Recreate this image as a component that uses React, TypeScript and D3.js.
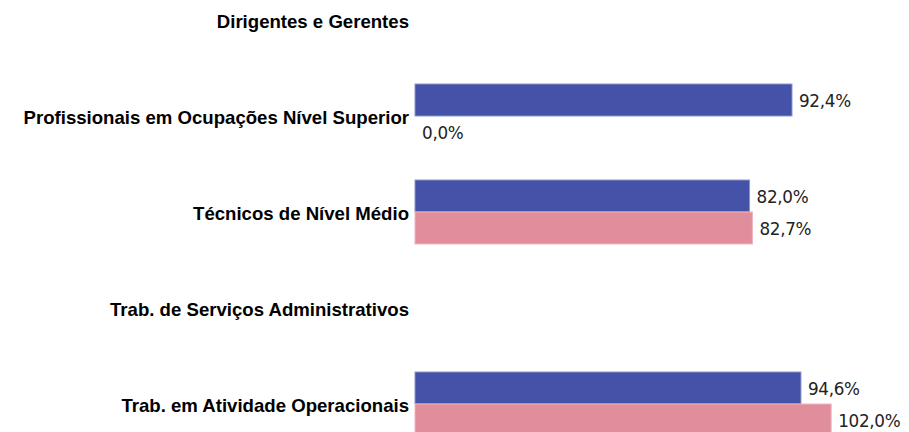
import React from "react";
import * as d3 from "d3";

const categories = [
  "Dirigentes e Gerentes",
  "Profissionais em Ocupações Nível Superior",
  "Técnicos de Nível Médio",
  "Trab. de Serviços Administrativos",
  "Trab. em Atividade Operacionais",
];
const seriesA: (number | null)[] = [null, 92.4, 82.0, null, 94.6];
const seriesB: (number | null)[] = [null, 0.0, 82.7, null, 102.0];
const seriesNames = ["A", "B"];
const colors = ["#4453A8", "#E08E9C"];
const strokes = ["#8C96CC", "#EDB5BF"];

const W = 909;
const H = 432;

export default function App() {
  const x = d3.scaleLinear().domain([0, 100]).range([415, 415 + 408]);
  const y = d3
    .scaleBand<string>()
    .domain(categories)
    .range([-28, 452])
    .paddingInner(0)
    .paddingOuter(0);
  const inner = d3
    .scaleBand<string>()
    .domain(seriesNames)
    .range([0, 64]);
  const fmt = (v: number) => v.toFixed(1).replace(".", ",") + "%";
  const series = [seriesA, seriesB];

  return (
    <svg
      width={W}
      height={H}
      style={{ position: "absolute", left: 0, top: 0, background: "#fff" }}
    >
      {categories.map((c, i) => {
        const cy = (y(c) as number) + y.bandwidth() / 2;
        return (
          <g key={c}>
            <text
              x={409}
              y={cy + 1}
              textAnchor="end"
              dominantBaseline="central"
              fontFamily="'Liberation Sans', Arial, sans-serif"
              fontWeight="bold"
              fontSize={18.6}
              fill="#000"
            >
              {c}
            </text>
            {series.map((s, j) => {
              const v = s[i];
              if (v === null) return null;
              const by = cy - 32 + (inner(seriesNames[j]) as number);
              const bh = inner.bandwidth();
              const x0 = x(0);
              const x1 = x(v);
              return (
                <g key={j}>
                  {v > 0 && (
                    <rect
                      x={x0}
                      y={by}
                      width={x1 - x0}
                      height={bh}
                      fill={colors[j]}
                      stroke={strokes[j]}
                      strokeWidth={1}
                    />
                  )}
                  <text
                    x={x1 + 7}
                    y={by + bh / 2 + 1}
                    dominantBaseline="central"
                    fontFamily="'DejaVu Sans', Tahoma, sans-serif"
                    fontSize={16.8}
                    letterSpacing={-0.3}
                    fill="#222"
                  >
                    {fmt(v)}
                  </text>
                </g>
              );
            })}
          </g>
        );
      })}
    </svg>
  );
}
